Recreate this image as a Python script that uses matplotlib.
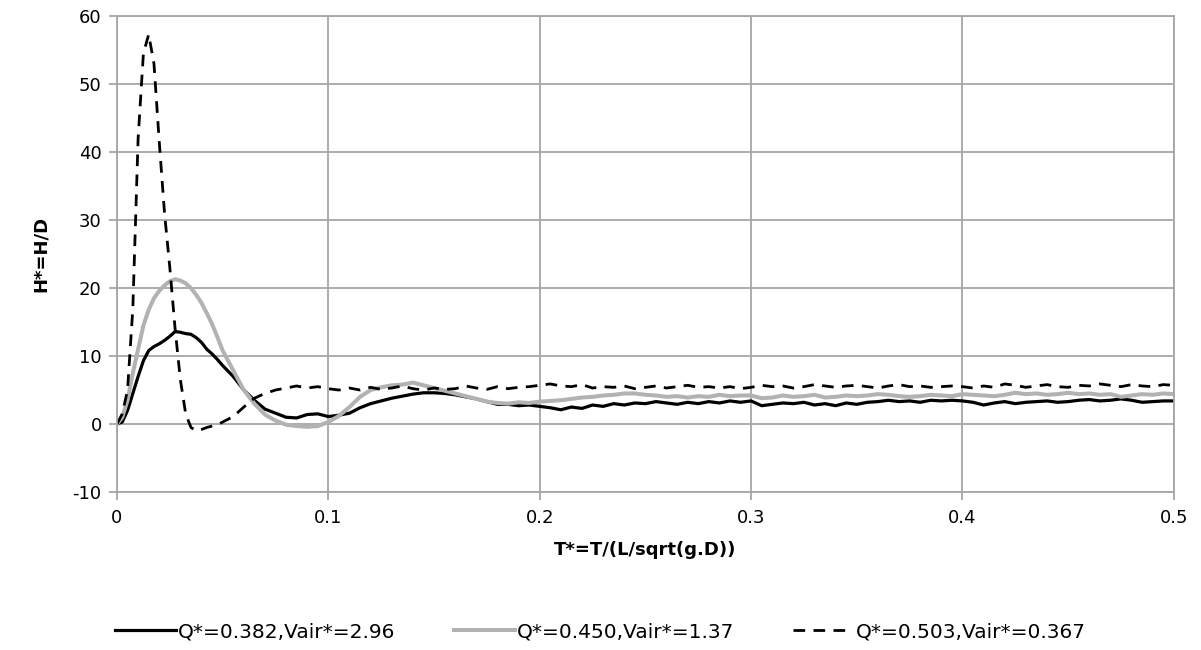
import matplotlib
matplotlib.use("Agg")
import matplotlib.pyplot as plt

plt.rcParams["font.family"] = ["DejaVu Sans"]
plt.rcParams["axes.unicode_minus"] = False

#%% Dados
t = [0, 0.0025, 0.005, 0.0075, 0.01, 0.0125, 0.015, 0.0175, 0.02, 0.0225, 0.025,
     0.0275, 0.03, 0.0325, 0.035, 0.0375, 0.04, 0.0425, 0.045, 0.0475, 0.05,
     0.055, 0.06, 0.065, 0.07, 0.075, 0.08, 0.085, 0.09, 0.095, 0.1,
     0.105, 0.11, 0.115, 0.12, 0.125, 0.13, 0.135, 0.14, 0.145, 0.15,
     0.155, 0.16, 0.165, 0.17, 0.175, 0.18, 0.185, 0.19, 0.195, 0.2,
     0.205, 0.21, 0.215, 0.22, 0.225, 0.23, 0.235, 0.24, 0.245, 0.25,
     0.255, 0.26, 0.265, 0.27, 0.275, 0.28, 0.285, 0.29, 0.295, 0.3,
     0.305, 0.31, 0.315, 0.32, 0.325, 0.33, 0.335, 0.34, 0.345, 0.35,
     0.355, 0.36, 0.365, 0.37, 0.375, 0.38, 0.385, 0.39, 0.395, 0.4,
     0.405, 0.41, 0.415, 0.42, 0.425, 0.43, 0.435, 0.44, 0.445, 0.45,
     0.455, 0.46, 0.465, 0.47, 0.475, 0.48, 0.485, 0.49, 0.495, 0.5]

h_382 = [0, 0.3, 2.0, 4.5, 7.0, 9.3, 10.8, 11.4, 11.8, 12.3, 12.9,
         13.6, 13.5, 13.3, 13.2, 12.7, 12.0, 11.0, 10.3, 9.5, 8.6,
         7.0, 5.0, 3.5, 2.2, 1.6, 1.0, 0.9, 1.4, 1.5, 1.1,
         1.3, 1.6, 2.4, 3.0, 3.4, 3.8, 4.1, 4.4, 4.6, 4.6,
         4.5, 4.3, 4.0, 3.7, 3.3, 2.9, 2.9, 2.7, 2.8, 2.6,
         2.4, 2.1, 2.5, 2.3, 2.8, 2.6, 3.0, 2.8, 3.1, 3.0,
         3.3, 3.1, 2.9, 3.2, 3.0, 3.3, 3.1, 3.4, 3.2, 3.4,
         2.7, 2.9, 3.1, 3.0, 3.2, 2.8, 3.0, 2.7, 3.1, 2.9,
         3.2, 3.3, 3.5, 3.3, 3.4, 3.2, 3.5, 3.4, 3.5, 3.4,
         3.2, 2.8, 3.1, 3.3, 3.0, 3.2, 3.3, 3.4, 3.2, 3.3,
         3.5, 3.6, 3.4, 3.5, 3.7, 3.5, 3.2, 3.3, 3.4, 3.4]

h_450 = [0, 1.0, 3.5, 7.5, 11.0, 14.5, 16.8, 18.5, 19.6, 20.4, 21.0,
         21.3, 21.1, 20.7, 20.0, 19.0, 17.8, 16.3, 14.7, 12.8, 10.8,
         7.9, 5.0, 3.0, 1.4, 0.5, -0.1, -0.3, -0.4, -0.3, 0.3,
         1.2, 2.5, 4.0, 5.0, 5.4, 5.7, 5.8, 6.1, 5.7, 5.3,
         4.9, 4.5, 4.1, 3.7, 3.3, 3.1, 3.0, 3.2, 3.1, 3.3,
         3.4, 3.5, 3.7, 3.9, 4.0, 4.2, 4.3, 4.5, 4.5, 4.3,
         4.2, 4.0, 4.1, 3.9, 4.1, 4.0, 4.3, 4.1, 4.2, 4.2,
         3.8, 3.9, 4.2, 4.0, 4.1, 4.3, 3.9, 4.0, 4.2, 4.1,
         4.2, 4.4, 4.3, 4.1, 4.0, 4.1, 4.3, 4.2, 4.1, 4.4,
         4.3, 4.2, 4.1, 4.3, 4.6, 4.4, 4.5, 4.3, 4.4, 4.6,
         4.4, 4.5, 4.3, 4.4, 4.0, 4.2, 4.4, 4.3, 4.5, 4.4]

h_503 = [0, 1.5, 5.0, 17.0, 42.0, 54.5, 57.3, 53.0, 41.5, 31.0, 23.0,
         14.0, 6.5, 1.5, -0.5, -1.0, -0.8, -0.5, -0.3, -0.1, 0.3,
         1.1, 2.5, 3.8, 4.5, 5.0, 5.3, 5.6, 5.3, 5.5, 5.2,
         5.0, 5.3, 5.0, 5.4, 5.1, 5.3, 5.6, 5.2, 5.0, 5.3,
         5.1, 5.2, 5.6, 5.3, 5.1, 5.5, 5.2, 5.4, 5.5, 5.7,
         5.9, 5.6, 5.5, 5.8, 5.3, 5.5, 5.4, 5.6, 5.2, 5.4,
         5.6, 5.3, 5.5, 5.7, 5.4, 5.5, 5.3, 5.5, 5.2, 5.4,
         5.7, 5.5, 5.6, 5.3, 5.5, 5.8, 5.6, 5.4, 5.6, 5.7,
         5.5, 5.3, 5.6, 5.8, 5.5, 5.6, 5.4, 5.5, 5.6, 5.5,
         5.3, 5.6, 5.4, 5.9, 5.7, 5.4, 5.6, 5.8, 5.5, 5.4,
         5.7, 5.6, 5.9, 5.7, 5.5, 5.8, 5.6, 5.5, 5.8, 5.7]

rotulos = ["Q*=0.382,Vair*=2.96", "Q*=0.450,Vair*=1.37", "Q*=0.503,Vair*=0.367"]

#%% Gráfico
cinza = "#a6a6a6"
fig = plt.figure(figsize=(12.01, 6.5), dpi=100)
ax = fig.add_axes([0.0974, 0.243, 0.88, 0.7323])

ax.plot(t, h_382, color="black", lw=2.3, label=rotulos[0])
ax.plot(t, h_450, color="#b2b2b2", lw=2.9, label=rotulos[1])
ax.plot(t, h_503, color="black", lw=2.0, linestyle=(0, (4.2, 3.0)), label=rotulos[2])

ax.set_xlim(0, 0.5)
ax.set_ylim(-10, 60)
ax.set_xticks([0, 0.1, 0.2, 0.3, 0.4, 0.5])
ax.set_xticklabels(["0", "0.1", "0.2", "0.3", "0.4", "0.5"])
ax.set_yticks(range(-10, 61, 10))
ax.grid(True, color=cinza, lw=1.3)
for s in ax.spines.values():
    s.set_color(cinza)
    s.set_linewidth(1.3)
ax.tick_params(axis="both", color=cinza, width=1.3, length=6, labelsize=13)
ax.tick_params(axis="x", pad=6)
ax.tick_params(axis="y", pad=5)

ax.set_xlabel("T*=T/(L/sqrt(g.D))", fontsize=13, fontweight="bold", labelpad=10)
ax.set_ylabel("H*=H/D", fontsize=13, fontweight="bold", labelpad=16)

fig.legend(loc="center", bbox_to_anchor=(0.5, 0.028), ncol=3, frameon=False,
           fontsize=14.5, handlelength=3.0, handletextpad=0.12, columnspacing=2.9)

fig.savefig("out.png", dpi=100)
